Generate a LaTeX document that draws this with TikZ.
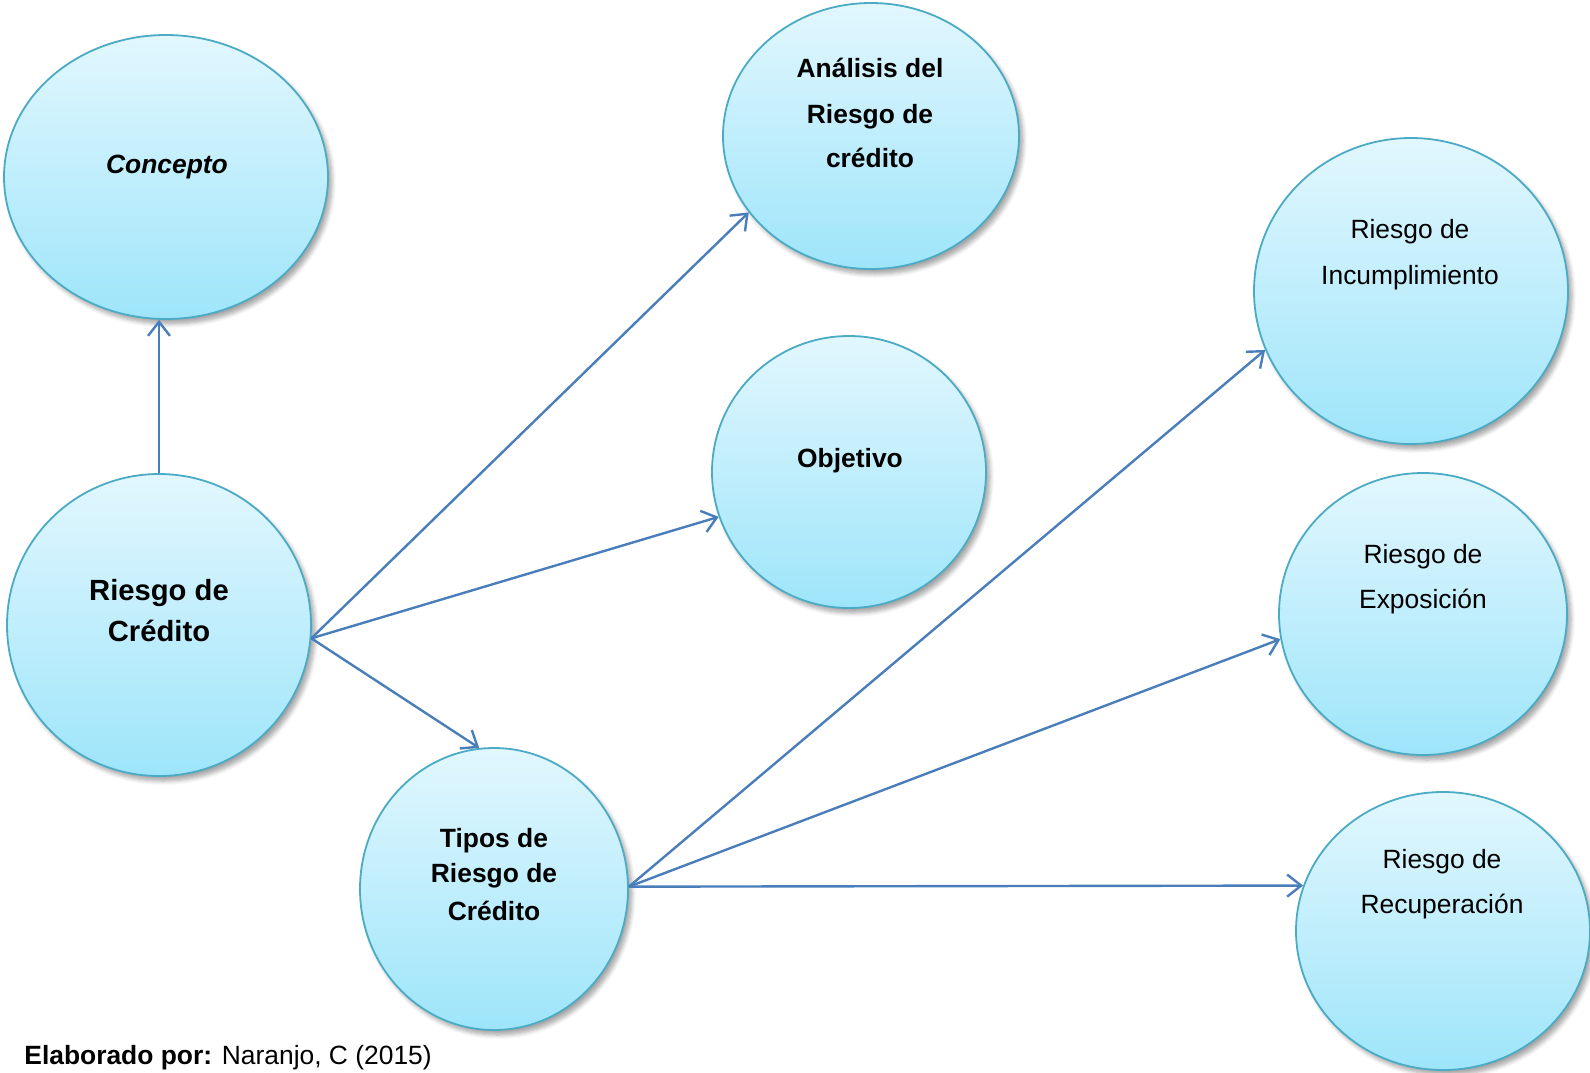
\documentclass[tikz,border=0pt]{standalone}
\usepackage{fontspec}
\setmainfont{Liberation Sans}
\usetikzlibrary{arrows.meta,shapes.geometric,shadows.blur}
\definecolor{bubbletop}{RGB}{226,247,254}
\definecolor{bubblebot}{RGB}{158,229,250}
\definecolor{bubbleedge}{RGB}{75,170,196}
\definecolor{linkblue}{RGB}{74,126,187}
\tikzset{
  bubble/.style={ellipse, draw=bubbleedge, line width=0.9pt,
    top color=bubbletop, bottom color=bubblebot, inner sep=0pt,
    blur shadow={shadow xshift=2pt, shadow yshift=-2.5pt,
      shadow blur steps=6, shadow opacity=35}},
  link/.style={draw=linkblue, line width=1.2pt,
    -{Straight Barb[length=7pt,width=11pt]}},
  lbl/.style={anchor=base, inner sep=0pt, font=\fontsize{13.2pt}{15pt}\selectfont},
  lblb/.style={anchor=base, inner sep=0pt, font=\fontsize{13.2pt}{15pt}\selectfont\bfseries},
  lblbig/.style={anchor=base, inner sep=0pt, font=\fontsize{14.6pt}{17pt}\selectfont\bfseries},
}
\begin{document}
\begin{tikzpicture}[x=0.5pt, y=-0.5pt]
\useasboundingbox (0,0) rectangle (1590,1072);
\clip (0,0) rectangle (1590,1072);

% bubbles
\node[bubble, minimum width=162pt, minimum height=142pt] (co)  at (166,177) {};
\node[bubble, minimum width=152pt, minimum height=151pt] (rc)  at (159,625) {};
\node[bubble, minimum width=148pt, minimum height=133pt] (an)  at (871,136) {};
\node[bubble, minimum width=137pt, minimum height=136pt] (ob)  at (849,472) {};
\node[bubble, minimum width=134pt, minimum height=141pt] (tp)  at (494,889) {};
\node[bubble, minimum width=157pt, minimum height=153pt] (inc) at (1411,291) {};
\node[bubble, minimum width=144pt, minimum height=141pt] (exp) at (1423,614) {};
\node[bubble, minimum width=147pt, minimum height=139pt] (rec) at (1443,931) {};

% labels
\node[lblb] (co-t) at (167,173) {\itshape Concepto};
\node[lblbig] (rc-t1) at (159,600) {Riesgo de};
\node[lblbig] (rc-t2) at (159,641) {Crédito};
\node[lblb] (an-t1) at (870,77) {Análisis del};
\node[lblb] (an-t2) at (870,123) {Riesgo de};
\node[lblb] (an-t3) at (870,167) {crédito};
\node[lblb] (ob-t) at (850,467) {Objetivo};
\node[lblb] (tp-t1) at (494,847) {Tipos de};
\node[lblb] (tp-t2) at (494,882) {Riesgo de};
\node[lblb] (tp-t3) at (494,920) {Crédito};
\node[lbl] (inc-t1) at (1410,238) {Riesgo de};
\node[lbl] (inc-t2) at (1410,284) {Incumplimiento};
\node[lbl] (exp-t1) at (1423,563) {Riesgo de};
\node[lbl] (exp-t2) at (1423,608) {Exposición};
\node[lbl] (rec-t1) at (1442,868) {Riesgo de};
\node[lbl] (rec-t2) at (1442,913) {Recuperación};

% connectors
\draw[link] (rc.north) -- (co.south -| rc.north);
\draw[link] (rc.-5) -- (an.212);
\draw[link] (rc.-5) -- (ob.199);
\draw[link] (rc.-5) -- (tp.96);
\draw[link] (tp.1) -- (inc.202);
\draw[link] (tp.1) -- (exp.190.5);
\draw[link] (tp.1) -- (rec.162);

% source line
\node[anchor=base west, inner sep=0pt, font=\fontsize{13.2pt}{15pt}\selectfont] (src)
  at (24,1064) {\textbf{Elaborado por:} Naranjo, C (2015)};
\end{tikzpicture}
\end{document}
